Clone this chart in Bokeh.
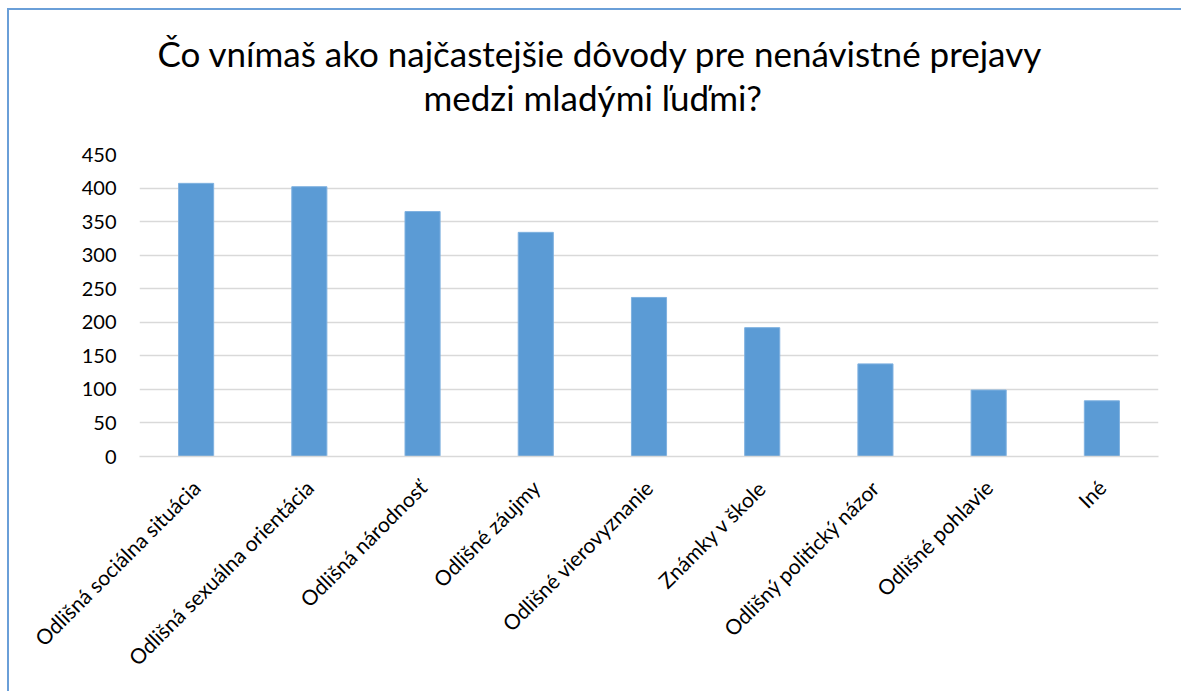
import math
from bokeh.plotting import figure
from bokeh.models import FactorRange, Range1d, FixedTicker, Title
from bokeh.embed import file_html
from bokeh.resources import INLINE

categories = [
    "Odlišná sociálna situácia",
    "Odlišná sexuálna orientácia",
    "Odlišná národnosť",
    "Odlišné záujmy",
    "Odlišné vierovyznanie",
    "Známky v škole",
    "Odlišný politický názor",
    "Odlišné pohlavie",
    "Iné",
]
values = [407, 402, 365, 334, 237, 192, 138, 99, 83]
y_ticks = [0, 50, 100, 150, 200, 250, 300, 350, 400, 450]
title_lines = ["Čo vnímaš ako najčastejšie dôvody pre nenávistné prejavy",
               "medzi mladými ľuďmi?"]

FONT = "Lato"

p = figure(
    x_range=FactorRange(*categories, range_padding=0),
    y_range=Range1d(0, 450),
    width=1174, height=683,
    output_backend="svg", toolbar_location=None,
    min_border_left=130, min_border_right=25,
    min_border_top=144, min_border_bottom=237,
)
p.styles = {"border-top": "2px solid #6A9FD8", "border-left": "2px solid #6A9FD8",
            "margin-left": "7px", "margin-top": "8px"}

p.vbar(x=categories, top=values, width=0.31, fill_color="#5B9BD5",
       line_color="#7FB1E0", line_width=1)

# spacer between frame and title block (nearest to the plot)
p.add_layout(Title(text=" ", text_font_size="1px", standoff=34), "above")
# second title line
p.add_layout(Title(text=title_lines[1], align="left", offset=284, standoff=0,
                   text_font=FONT, text_font_size="35px", text_font_style="normal",
                   text_color="#000000"), "above")
# first title line (outermost)
p.title.text = title_lines[0]
p.title.align = "left"
p.title.offset = 18
p.title.standoff = 0
p.title.text_font = FONT
p.title.text_font_size = "35px"
p.title.text_font_style = "normal"
p.title.text_color = "#000000"

p.outline_line_color = None
p.xgrid.visible = False
p.ygrid.grid_line_color = "#D9D9D9"
p.ygrid.grid_line_width = 1.5

p.yaxis.ticker = FixedTicker(ticks=y_ticks)
p.yaxis.axis_line_color = None
p.yaxis.major_tick_line_color = None
p.yaxis.major_tick_out = 0
p.yaxis.major_tick_in = 0
p.yaxis.minor_tick_line_color = None
p.yaxis.major_label_standoff = 23
p.yaxis.major_label_text_font = FONT
p.yaxis.major_label_text_font_size = "20px"
p.yaxis.major_label_text_color = "#000000"

p.xaxis.axis_line_color = "#D9D9D9"
p.xaxis.axis_line_width = 1.5
p.xaxis.major_tick_line_color = None
p.xaxis.major_tick_out = 0
p.xaxis.major_tick_in = 0
p.xaxis.minor_tick_line_color = None
p.xaxis.major_label_orientation = math.pi / 4
p.xaxis.major_label_standoff = 27
p.xaxis.major_label_text_font = FONT
p.xaxis.major_label_text_font_size = "21px"
p.xaxis.major_label_text_color = "#000000"

p.background_fill_color = "white"
p.border_fill_color = "white"

open("out.html", "w").write(file_html(p, INLINE))
